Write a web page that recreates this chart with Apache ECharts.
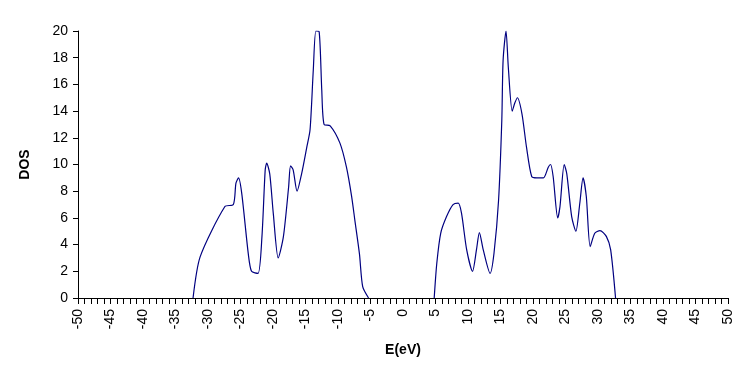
<!DOCTYPE html>
<html>
<head>
<meta charset="utf-8">
<script src="https://cdn.jsdelivr.net/npm/echarts@6/dist/echarts.min.js"></script>
<style>
  html, body { margin: 0; padding: 0; background: #fff; }
  #chart { width: 747px; height: 367px; }
</style>
</head>
<body>
<div id="chart"></div>
<script>
// valence band (E in eV, DOS)
const valenceE = [-32.3, -31.2, -27.4, -26.1, -25.7, -25.3, -24.8, -23.8, -23.3, -22.3, -21.7, -21.2, -20.97, -20.5, -19.95, -19.2, -18.4, -17.6, -17.3, -16.9, -16.3, -15.6, -14.8, -14.3, -13.8, -13.4, -12.9, -12.5, -12.15, -11.2, -9.7, -8.7, -7.9, -7.4, -6.7, -6.2, -5.3];
const valenceDos = [0, 3.1, 6.85, 7.0, 8.6, 9.0, 7.8, 3.3, 2.0, 1.85, 4.6, 9.6, 10.1, 9.3, 6.3, 3.0, 4.6, 8.3, 9.9, 9.6, 8.0, 9.3, 11.3, 12.6, 17.1, 20.0, 19.95, 15.6, 13.0, 12.9, 11.6, 9.8, 7.6, 5.8, 3.3, 0.85, 0];

// conduction band
const conductionE = [4.8, 5.2, 5.8, 6.7, 7.7, 8.5, 9.0, 9.8, 10.7, 11.3, 11.75, 12.35, 13.4, 14.0, 14.7, 15.2, 15.4, 15.85, 16.2, 16.8, 17.2, 17.6, 18.3, 19.0, 19.8, 20.6, 21.6, 22.35, 22.7, 23.1, 23.8, 24.15, 24.8, 25.2, 25.95, 26.6, 27.2, 27.7, 28.2, 28.8, 29.5, 30.3, 31.3, 31.95, 32.7];
const conductionDos = [0, 2.6, 4.85, 6.1, 7.0, 7.1, 6.35, 3.6, 2.0, 3.6, 4.9, 3.6, 1.85, 3.35, 7.3, 13.3, 17.8, 20.0, 17.3, 14.0, 14.6, 15.0, 13.8, 11.3, 9.1, 9.0, 9.0, 9.8, 10.0, 9.1, 6.0, 6.85, 10.0, 9.3, 6.1, 5.0, 7.1, 9.0, 7.6, 3.85, 4.85, 5.05, 4.6, 3.6, 0];

const xLabel = 'E(eV)';
const yLabel = 'DOS';

const toPairs = (xs, ys) => xs.map((x, i) => [x, ys[i]]);

const chart = echarts.init(document.getElementById('chart'));

const textStyle = { fontFamily: 'Liberation Sans, Arial, sans-serif', color: '#000', fontSize: 14 };

const lineSeries = data => ({
  type: 'line',
  data,
  smooth: 0.25,
  showSymbol: false,
  lineStyle: { color: '#000080', width: 1.2 },
  z: 1,
});

chart.setOption({
  animation: false,
  backgroundColor: '#fff',
  grid: { left: 78, right: 19, top: 31, bottom: 69 },
  xAxis: {
    type: 'value',
    min: -50,
    max: 50,
    interval: 5,
    name: xLabel,
    nameLocation: 'middle',
    nameGap: 45,
    nameTextStyle: { ...textStyle, fontWeight: 'bold' },
    axisLine: { onZero: false, lineStyle: { color: '#000', width: 1 } },
    axisTick: { length: 6, lineStyle: { color: '#000' } },
    minorTick: { show: true, splitNumber: 5, length: 6, lineStyle: { color: '#000' } },
    axisLabel: { ...textStyle, rotate: 90, margin: 11 },
    splitLine: { show: false },
  },
  yAxis: {
    type: 'value',
    min: 0,
    max: 20,
    interval: 2,
    name: yLabel,
    nameLocation: 'middle',
    nameGap: 46,
    nameRotate: 90,
    nameTextStyle: { ...textStyle, fontWeight: 'bold' },
    axisLine: { show: true, onZero: false, lineStyle: { color: '#000', width: 1 } },
    axisTick: { show: true, length: 5, lineStyle: { color: '#000' } },
    axisLabel: { ...textStyle, margin: 10 },
    splitLine: { show: false },
  },
  series: [
    lineSeries(toPairs(valenceE, valenceDos)),
    lineSeries(toPairs(conductionE, conductionDos)),
  ],
});
</script>
</body>
</html>
